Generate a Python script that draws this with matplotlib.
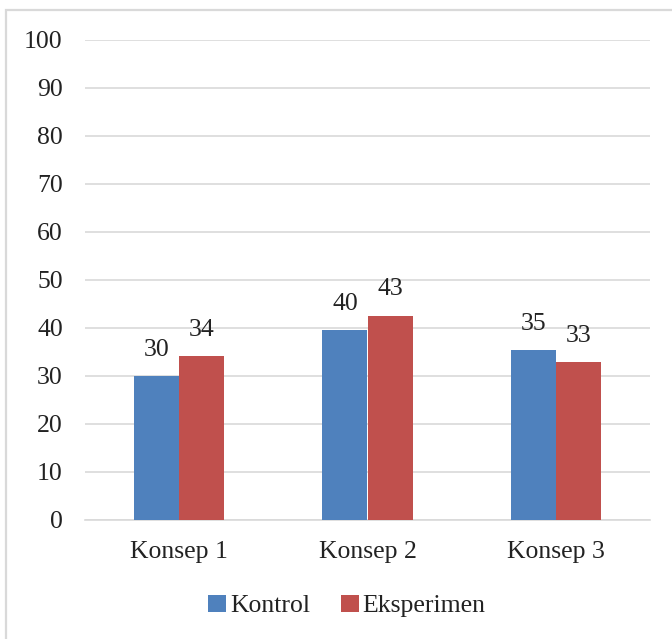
import matplotlib
matplotlib.use("Agg")
import matplotlib.pyplot as plt
from matplotlib.patches import Rectangle
import numpy as np

categories = ["Konsep 1", "Konsep 2", "Konsep 3"]
kontrol = [29.9, 39.6, 35.4]
eksperimen = [34.2, 42.6, 32.9]
series_names = ["Kontrol", "Eksperimen"]
y_ticks = [0, 10, 20, 30, 40, 50, 60, 70, 80, 90, 100]

blue = "#4F81BD"
red = "#C0504D"
grid_col = "#D9D9D9"
FS = 18.5

plt.rcParams["font.family"] = ["Liberation Serif", "DejaVu Serif"]

W, H = 672, 639
fig = plt.figure(figsize=(W / 100, H / 100), dpi=100)
ax = fig.add_axes([85 / W, 1 - 520 / H, (650 - 85) / W, (520 - 40) / H])

x = np.arange(len(categories))
bw = 0.24
b1 = ax.bar(x - bw / 2, kontrol, bw, color=blue, label=series_names[0], zorder=3)
b2 = ax.bar(x + bw / 2, eksperimen, bw, color=red, label=series_names[1], zorder=3)

for bars, vals in ((b1, kontrol), (b2, eksperimen)):
    for rect, v in zip(bars, vals):
        ax.annotate(f"{v:.0f}", (rect.get_x() + rect.get_width() / 2, v),
                    xytext=(0, 11), textcoords="offset points",
                    ha="center", va="bottom", fontsize=FS, color="#222222")

ax.set_xlim(-0.5, len(categories) - 0.5)
ax.set_ylim(0, 100)
ax.set_yticks(y_ticks)
ax.set_yticklabels([str(t) for t in y_ticks])
ax.set_xticks(x)
ax.set_xticklabels(categories)
ax.tick_params(axis="y", length=0, pad=16, labelsize=FS, labelcolor="#222222")
ax.tick_params(axis="x", length=0, pad=15, labelsize=FS, labelcolor="#222222")
ax.yaxis.grid(True, color=grid_col, linewidth=1.2, zorder=0)
ax.set_axisbelow(True)
for s in ("top", "right", "left"):
    ax.spines[s].set_visible(False)
ax.spines["bottom"].set_color(grid_col)
ax.spines["bottom"].set_linewidth(1.2)

leg = fig.legend(handles=[b1, b2], labels=series_names, loc="center",
                 bbox_to_anchor=(347 / W, 1 - 606 / H), ncol=2, frameon=False,
                 fontsize=FS, handlelength=0.7, handleheight=0.7,
                 handletextpad=0.15, columnspacing=1.2)
for t in leg.get_texts():
    t.set_color("#222222")

# outer chart frame
fig.patches.append(Rectangle((6 / W, -0.05), 1.1, 1 - 10 / H + 0.05,
                             transform=fig.transFigure, fill=False,
                             edgecolor=grid_col, linewidth=1.6))

fig.savefig("out.png", dpi=100, facecolor="white")
